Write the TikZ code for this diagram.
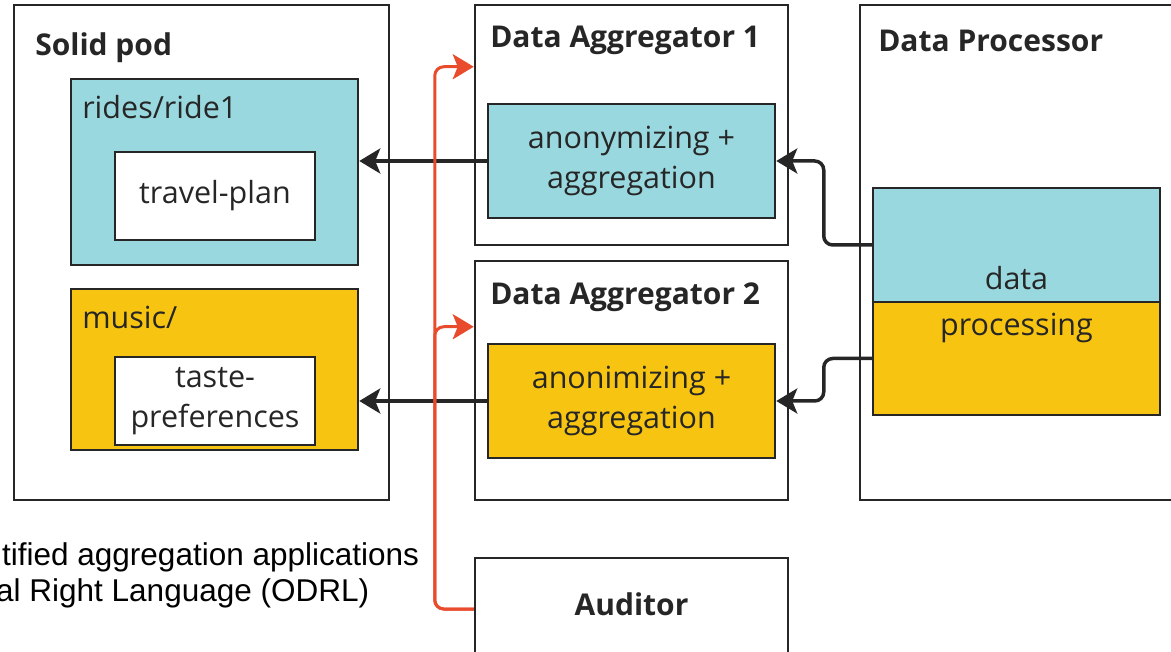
\documentclass[tikz,border=0pt]{standalone}
\usepackage{fontspec}
\setmainfont{Open Sans}
\newfontfamily\notefont{Liberation Sans}
\usetikzlibrary{arrows.meta}
\usetikzlibrary{calc}

\definecolor{boxline}{RGB}{38,38,38}
\definecolor{podcyan}{RGB}{153,216,223}
\definecolor{podyellow}{RGB}{247,197,17}
\definecolor{auditred}{RGB}{232,76,45}

\begin{document}
\begin{tikzpicture}[x=1pt,y=-1pt,font=\fontsize{30.5}{40}\selectfont,
    box/.style={draw=boxline, line width=2.5pt, inner sep=0pt, align=center, text=boxline},
    title/.style={font=\fontsize{30}{40}\selectfont\bfseries, text=boxline},
    label/.style={anchor=base west, text=boxline},
    flow/.style={-{Stealth[length=21pt,width=25pt,inset=5pt]}, line width=3.5pt, draw=boxline},
    audit/.style={-{Stealth[length=21pt,width=25pt,inset=5pt]}, line width=3pt, draw=auditred}]
    \useasboundingbox (0,0) rectangle (1171,652);
    \clip (0,0) rectangle (1171,652);

    % solid pod
    \node[box, minimum width=375, minimum height=495] (pod) at (201.5,252.5) {};
    \node[title, anchor=base west] at ($(pod.north west)+(19,52)$) {Solid pod};
    \node[box, fill=podcyan, minimum width=287, minimum height=186] (rides) at (214.5,172) {};
    \node[label] at ($(rides.north west)+(9,41)$) {rides/ride1};
    \node[box, fill=white, minimum width=200, minimum height=88] (travel) at (215,196) {travel-plan};
    \node[box, fill=podyellow, minimum width=287, minimum height=161] (music) at (214.5,369.5) {};
    \node[label] at ($(music.north west)+(9,41)$) {music/};
    \node[box, fill=white, minimum width=200, minimum height=88] (taste) at (215,401) {taste-\\preferences};

    % aggregators
    \node[box, minimum width=313, minimum height=240] (agg1) at (631.5,125) {};
    \node[title, anchor=base west] at ($(agg1.north west)+(13,44)$) {Data Aggregator 1};
    \node[box, fill=podcyan, minimum width=287, minimum height=114] (agg1box) at (631.5,161) {anonymizing +\\aggregation};
    \node[box, minimum width=313, minimum height=239] (agg2) at (631.5,380.5) {};
    \node[title, anchor=base west] at ($(agg2.north west)+(13,45)$) {Data Aggregator 2};
    \node[box, fill=podyellow, minimum width=287, minimum height=114] (agg2box) at (631.5,401) {anonimizing +\\aggregation};

    % processor
    \node[box, minimum width=330, minimum height=495] (proc) at (1025,252.5) {};
    \node[title, anchor=base west] at ($(proc.north west)+(16,48)$) {Data Processor};
    \node[box, fill=podcyan, minimum width=287, minimum height=114] (datab) at (1016.5,245) {};
    \node[box, fill=podyellow, minimum width=287, minimum height=113] (procb) at (1016.5,358.5) {};
    \node[anchor=base, text=boxline] at ($(datab.south)+(0,-14)$) {data};
    \node[anchor=base, text=boxline] at ($(procb.north)+(0,35)$) {processing};

    % auditor
    \node[box, minimum width=313, minimum height=102] (auditor) at (631.5,609) {};
    \node[title, anchor=base] at ($(auditor.north)+(0,59)$) {Auditor};

    % note
    \node[anchor=base west, inner sep=0pt, font=\notefont\fontsize{31.5}{35}\selectfont] (note1) at (2,565) {tified aggregation applications};
    \node[anchor=base west, inner sep=0pt, font=\notefont\fontsize{31.5}{35}\selectfont] (note2) at (-4,601) {al Right Language (ODRL)};

    % data flows
    \draw[flow] (agg1box.west) -- (agg1box.west -| rides.east);
    \draw[flow] (agg2box.west) -- (agg2box.west -| music.east);
    \draw[flow] (datab.west) [rounded corners=9pt] -- ++(-48,0) |- (agg1box.east) [sharp corners];
    \draw[flow] (procb.west) [rounded corners=9pt] -- ++(-48,0) |- (agg2box.east) [sharp corners];

    % audit rail
    \coordinate (in1) at ($(agg1.north west)+(0,63)$);
    \coordinate (in2) at ($(agg2.north west)+(0,67)$);
    \coordinate (rail) at ($(auditor.west)+(-39,0)$);
    \draw[audit] (auditor.west) [rounded corners=9pt] -| (rail |- in1) -- (in1) [sharp corners];
    \draw[audit] (auditor.west) [rounded corners=9pt] -| (rail |- in2) -- (in2) [sharp corners];
\end{tikzpicture}
\end{document}
